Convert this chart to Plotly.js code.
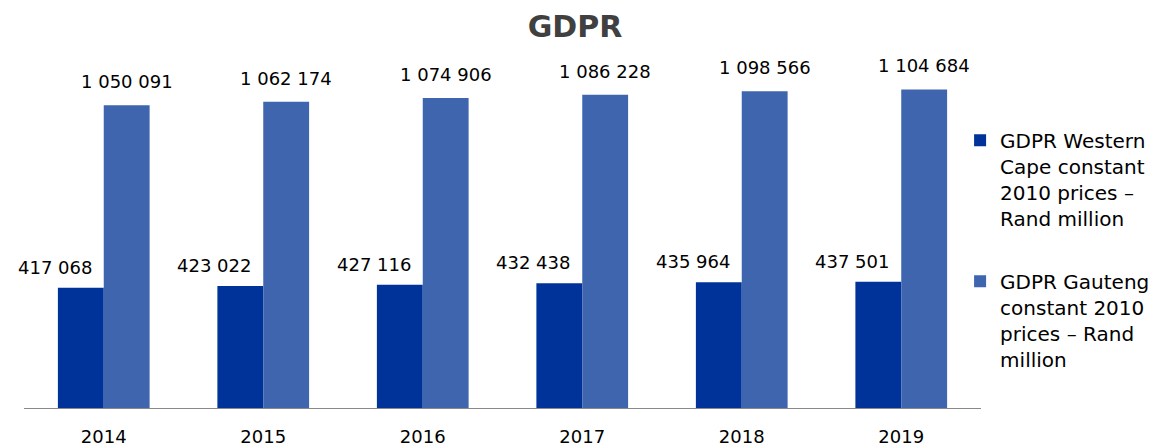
<!DOCTYPE html>
<html>
<head>
<meta charset="utf-8">
<script src="https://cdn.plot.ly/plotly-3.0.1.min.js"></script>
<style>
  html, body { margin: 0; padding: 0; background: white; }
  #chart { width: 1167px; height: 448px; }
</style>
</head>
<body>
<div id="chart"></div>
<script>
// data
let years = ['2014', '2015', '2016', '2017', '2018', '2019']
let westernCape = [417068, 423022, 427116, 432438, 435964, 437501]
let gauteng = [1050091, 1062174, 1074906, 1086228, 1098566, 1104684]
let nameWC = 'GDPR Western<br>Cape constant<br>2010 prices –<br>Rand million'
let nameGT = 'GDPR Gauteng<br>constant 2010<br>prices – Rand<br>million'

let darkBlue = '#003399'
let lightBlue = '#3E65AE'
let font = 'DejaVu Sans'

function spaced(v) {
    return String(v).replace(/\B(?=(\d{3})+(?!\d))/g, ' ')
}

let trace1 = {
    x: years,
    y: westernCape,
    type: 'bar',
    name: nameWC,
    legendgroup: 'wc',
    marker: { color: darkBlue },
    hoverinfo: 'skip'
}

let trace2 = {
    x: years,
    y: gauteng,
    type: 'bar',
    name: nameGT,
    legendgroup: 'gt',
    marker: { color: lightBlue },
    hoverinfo: 'skip'
}

// value labels (x as category index, a numeric-looking string is read as an index)
let labels = []
years.forEach(function (yr, i) {
    labels.push({
        x: i, y: westernCape[i], xref: 'x', yref: 'y',
        text: spaced(westernCape[i]), showarrow: false,
        yanchor: 'bottom', xshift: -49, yshift: 8,
        font: { family: font, size: 18, color: '#000' }
    })
    labels.push({
        x: i, y: gauteng[i], xref: 'x', yref: 'y',
        text: spaced(gauteng[i]), showarrow: false,
        yanchor: 'bottom', xshift: 23, yshift: 11,
        font: { family: font, size: 18, color: '#000' }
    })
})

let layout = {
    width: 1167,
    height: 448,
    margin: { l: 24, r: 182, t: 62, b: 40 },
    paper_bgcolor: 'white',
    plot_bgcolor: 'white',
    font: { family: font, size: 18, color: '#000' },
    title: {
        text: '<b>GDPR</b>',
        font: { family: font, size: 30, color: '#404040' },
        xref: 'container', x: 0.4927, xanchor: 'center',
        yref: 'container', y: 0.94, yanchor: 'middle'
    },
    barmode: 'group',
    bargap: 0.425,
    bargroupgap: 0,
    xaxis: {
        type: 'category',
        range: [-0.5, years.length - 0.5],
        showline: true,
        linecolor: '#898989',
        linewidth: 1,
        ticks: '',
        showgrid: false,
        zeroline: false,
        automargin: false,
        ticklabelstandoff: 12,
        tickfont: { family: font, size: 18, color: '#000' }
    },
    yaxis: {
        range: [0, 1200000],
        visible: false,
        showgrid: false,
        zeroline: false,
        fixedrange: true
    },
    showlegend: true,
    legend: {
        xref: 'paper',
        y: 0.83, yanchor: 'top',
        valign: 'top',
        traceorder: 'grouped',
        tracegroupgap: 34,
        font: { family: font, size: 20, color: '#000' },
        bgcolor: 'rgba(0,0,0,0)'
    },
    annotations: labels
}
// legend x in paper units from the left edge in pixels
layout.legend.x = (964 - 24) / (1167 - 24 - 182)

Plotly.newPlot('chart', [trace1, trace2], layout, { displayModeBar: false, staticPlot: true })
</script>
</body>
</html>
